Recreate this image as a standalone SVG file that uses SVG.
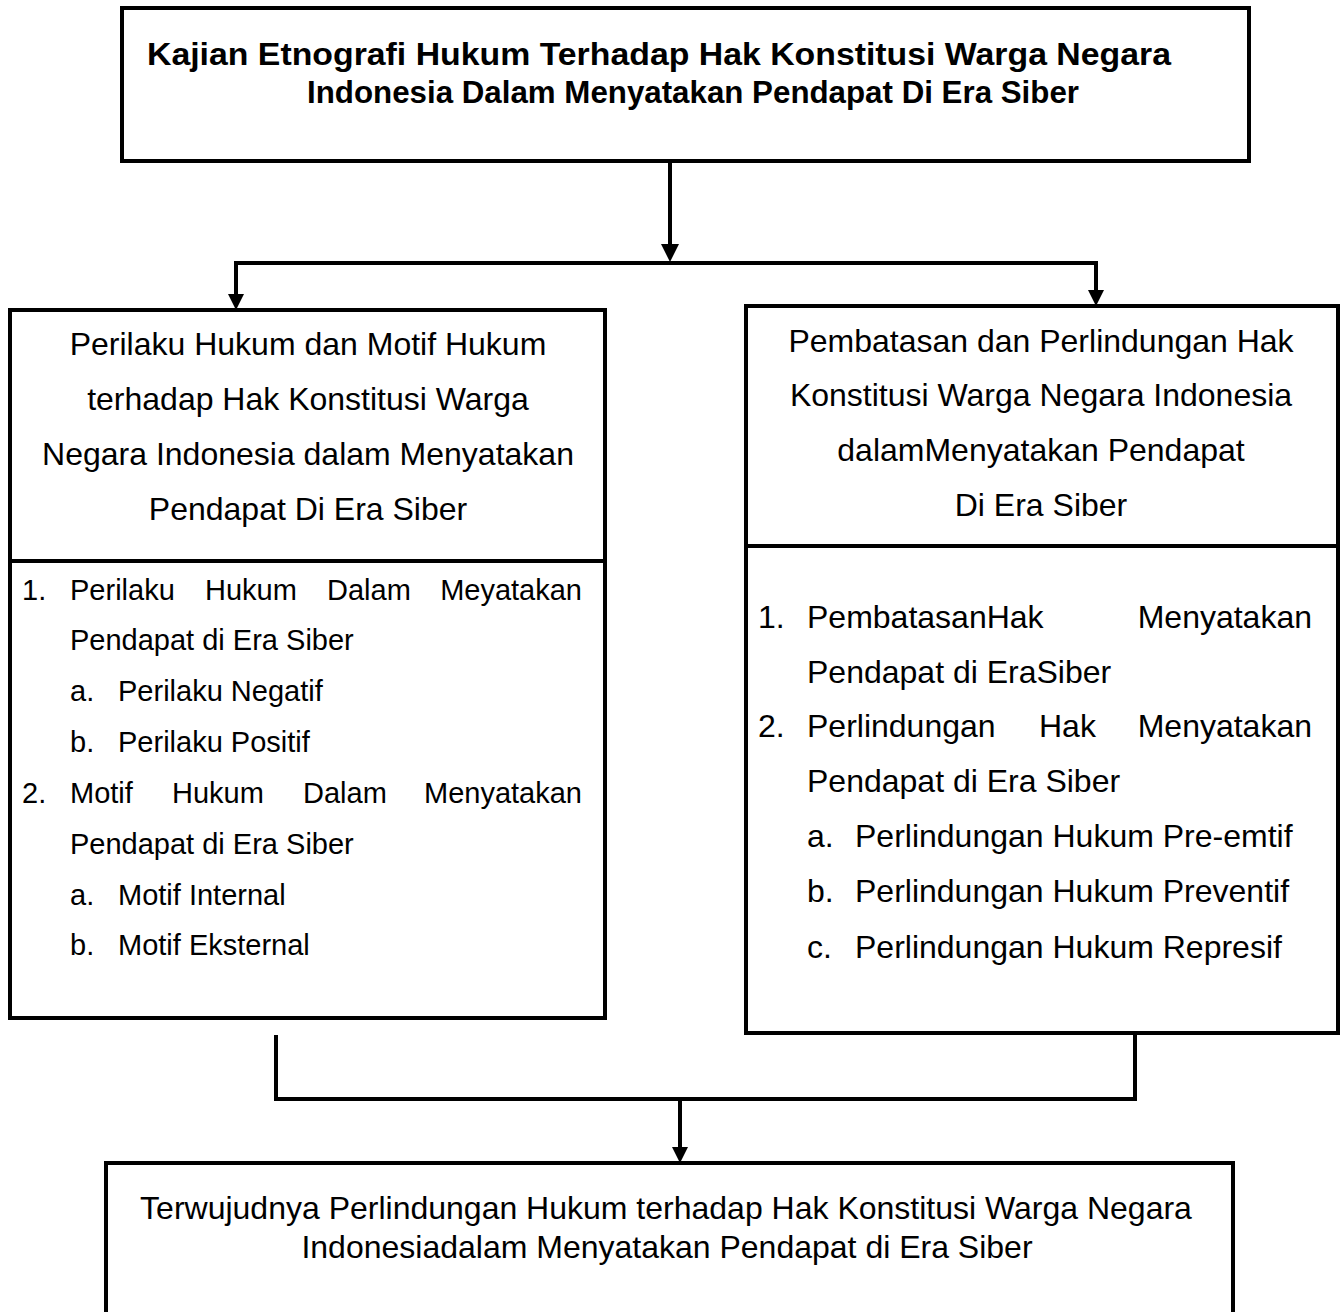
<svg xmlns="http://www.w3.org/2000/svg" width="1341" height="1312" viewBox="0 0 1341 1312">
<defs>
<style>
.box{fill:#fff;stroke:#000;stroke-width:4}
.ln{fill:none;stroke:#000;stroke-width:4}
.t{font-family:"Liberation Sans",Arial,sans-serif;font-size:32px;fill:#000}
.s{font-size:29px}
.b{font-weight:bold;font-size:32px}
.c{text-anchor:middle}
.e{text-anchor:end}
</style>
</defs>
<rect width="1341" height="1312" fill="#fff"/>
<g id="connectors">
<line class="ln" x1="670" y1="161" x2="670" y2="247"/>
<path d="M661,244 L679,244 L670,262 Z"/>
<polyline class="ln" points="236,296 236,263 1096,263 1096,292"/>
<path d="M228,294 L244,294 L236,310 Z"/>
<path d="M1088,290 L1104,290 L1096,306 Z"/>
<polyline class="ln" points="276,1035 276,1099 1135,1099 1135,1033"/>
<line class="ln" x1="680" y1="1099" x2="680" y2="1150"/>
<path d="M672,1147 L688,1147 L680,1163 Z"/>
</g>
<g id="node-title">
<rect class="box" x="122" y="8" width="1127" height="153"/>
<text class="t b" x="147" y="65" textLength="1024" lengthAdjust="spacingAndGlyphs">Kajian Etnografi Hukum Terhadap Hak Konstitusi Warga Negara</text>
<text class="t b" x="307" y="103" textLength="772" lengthAdjust="spacingAndGlyphs">Indonesia Dalam Menyatakan Pendapat Di Era Siber</text>
</g>
<g id="node-left">
<rect class="box" x="10" y="310" width="595" height="708"/>
<line class="ln" x1="10" y1="561" x2="605" y2="561"/>
<text class="t c" x="308" y="355">Perilaku Hukum dan Motif Hukum</text>
<text class="t c" x="308" y="410">terhadap Hak Konstitusi Warga</text>
<text class="t c" x="308" y="465">Negara Indonesia dalam Menyatakan</text>
<text class="t c" x="308" y="520">Pendapat Di Era Siber</text>
<text class="t s" x="22" y="600">1.</text>
<text class="t s" x="70" y="600">Perilaku</text>
<text class="t s" x="205" y="600">Hukum</text>
<text class="t s" x="327" y="600">Dalam</text>
<text class="t s e" x="582" y="600">Meyatakan</text>
<text class="t s" x="70" y="650">Pendapat di Era Siber</text>
<text class="t s" x="70" y="701">a.</text>
<text class="t s" x="118" y="701">Perilaku Negatif</text>
<text class="t s" x="70" y="752">b.</text>
<text class="t s" x="118" y="752">Perilaku Positif</text>
<text class="t s" x="22" y="803">2.</text>
<text class="t s" x="70" y="803">Motif</text>
<text class="t s" x="172" y="803">Hukum</text>
<text class="t s" x="303" y="803">Dalam</text>
<text class="t s e" x="582" y="803">Menyatakan</text>
<text class="t s" x="70" y="854">Pendapat di Era Siber</text>
<text class="t s" x="70" y="905">a.</text>
<text class="t s" x="118" y="905">Motif Internal</text>
<text class="t s" x="70" y="955">b.</text>
<text class="t s" x="118" y="955">Motif Eksternal</text>
</g>
<g id="node-right">
<rect class="box" x="746" y="306" width="592" height="727"/>
<line class="ln" x1="746" y1="546" x2="1338" y2="546"/>
<text class="t c" x="1041" y="352">Pembatasan dan Perlindungan Hak</text>
<text class="t c" x="1041" y="406">Konstitusi Warga Negara Indonesia</text>
<text class="t c" x="1041" y="461">dalamMenyatakan Pendapat</text>
<text class="t c" x="1041" y="516">Di Era Siber</text>
<text class="t" x="758" y="628">1.</text>
<text class="t" x="807" y="628">PembatasanHak</text>
<text class="t e" x="1312" y="628">Menyatakan</text>
<text class="t" x="807" y="683">Pendapat di EraSiber</text>
<text class="t" x="758" y="737">2.</text>
<text class="t" x="807" y="737">Perlindungan</text>
<text class="t" x="1039" y="737">Hak</text>
<text class="t e" x="1312" y="737">Menyatakan</text>
<text class="t" x="807" y="792">Pendapat di Era Siber</text>
<text class="t" x="807" y="847">a.</text>
<text class="t" x="855" y="847">Perlindungan Hukum Pre-emtif</text>
<text class="t" x="807" y="902">b.</text>
<text class="t" x="855" y="902">Perlindungan Hukum Preventif</text>
<text class="t" x="807" y="958">c.</text>
<text class="t" x="855" y="958">Perlindungan Hukum Represif</text>
</g>
<g id="node-bottom">
<rect class="box" x="106" y="1163" width="1127" height="160"/>
<text class="t c" x="666" y="1219">Terwujudnya Perlindungan Hukum terhadap Hak Konstitusi Warga Negara</text>
<text class="t c" x="667" y="1258">Indonesiadalam Menyatakan Pendapat di Era Siber</text>
</g>
</svg>
